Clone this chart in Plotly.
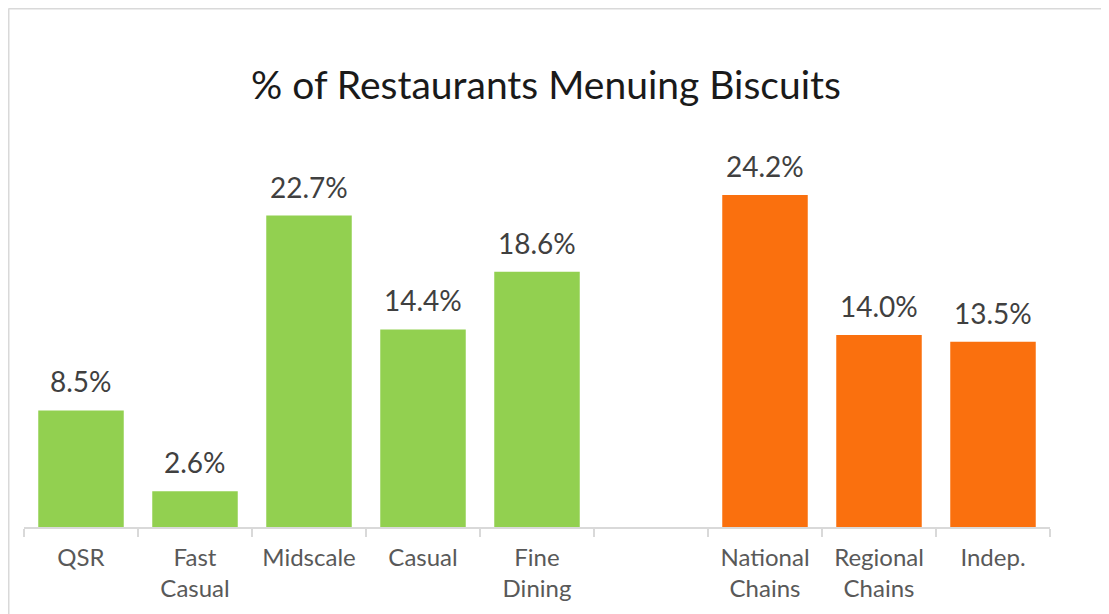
import plotly.graph_objects as go

categories = ["QSR", "Fast<br>Casual", "Midscale", "Casual", "Fine<br>Dining", " ",
              "National<br>Chains", "Regional<br>Chains", "Indep."]
values = [8.5, 2.6, 22.7, 14.4, 18.6, None, 24.2, 14.0, 13.5]
segment_colors = ["#92D050"] * 5 + ["#FFFFFF"] + ["#FA700E"] * 3
title_text = "% of Restaurants Menuing Biscuits"

# the page body adds an 8px offset; figure pixels = page pixels - 8
OFF = 8
W, H = 1109, 614
L, T = 24 - OFF, 150 - OFF
R = W - (1050 - OFF)
B = H - (527 - OFF)
pw, ph = W - L - R, H - T - B

def px_x(p):
    return (p - OFF - L) / pw

def px_y(p):
    return (H - B - (p - OFF)) / ph

FONT = "Century Gothic, URW Gothic, Lato, sans-serif"

fig = go.Figure()
fig.add_trace(go.Bar(
    x=categories, y=values,
    marker=dict(color=segment_colors, line=dict(width=0)),
    hoverinfo="x+y",
))

annotations = []
for c, v in zip(categories, values):
    if v is None:
        continue
    annotations.append(dict(
        x=c, y=v, xref="x", yref="y", text=f"{v:.1f}%", showarrow=False,
        yanchor="bottom", yshift=10,
        font=dict(family=FONT, size=28, color="#404040"),
    ))

annotations.append(dict(
    x=px_x(546), y=px_y(84), xref="paper", yref="paper", text=title_text,
    showarrow=False, xanchor="center", yanchor="middle",
    font=dict(family=FONT, size=39, color="#1a1a1a"),
))

fig.update_layout(
    width=W, height=H,
    margin=dict(l=L, r=R, t=T, b=B, pad=0),
    paper_bgcolor="#FFFFFF",
    plot_bgcolor="rgba(0,0,0,0)",
    showlegend=False,
    bargap=0.25,
    annotations=annotations,
    shapes=[
        dict(type="line", xref="paper", yref="paper", layer="below",
             x0=px_x(8.5), x1=px_x(W + 20), y0=px_y(8.5), y1=px_y(8.5),
             line=dict(color="#D9D9D9", width=2)),
        dict(type="line", xref="paper", yref="paper", layer="below",
             x0=px_x(8.5), x1=px_x(8.5), y0=px_y(8.5), y1=px_y(H + 20),
             line=dict(color="#D9D9D9", width=2)),
    ],
    xaxis=dict(
        type="category", showline=True, linecolor="#D9D9D9", linewidth=2,
        ticks="outside", tickson="boundaries", ticklen=8, tickcolor="#D9D9D9", tickwidth=2,
        tickfont=dict(family=FONT, size=24, color="#595959"),
        ticklabelstandoff=8,
        showgrid=False, zeroline=False, fixedrange=True,
    ),
    yaxis=dict(
        range=[0, 27.48], visible=False, showgrid=False, zeroline=False, fixedrange=True,
    ),
)

fig.write_html("out.html")
